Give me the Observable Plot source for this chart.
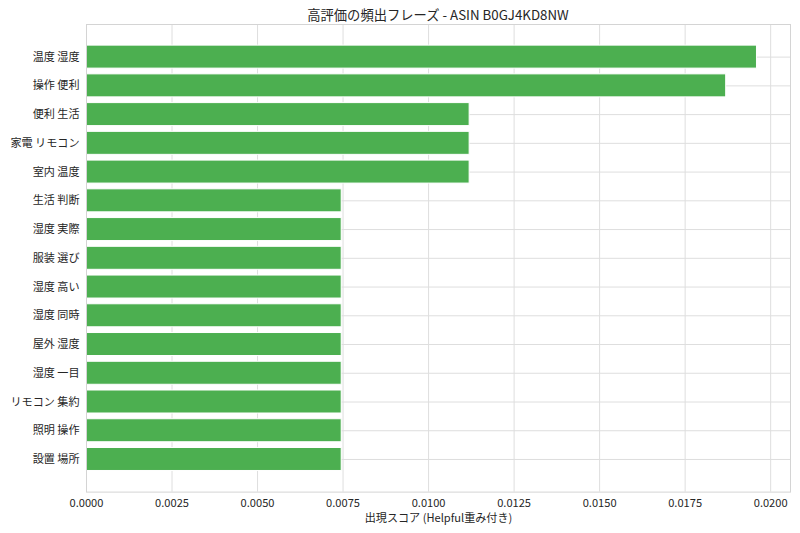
<!DOCTYPE html>
<html>
<head>
<meta charset="utf-8">
<script src="https://cdn.jsdelivr.net/npm/d3@7"></script>
<script src="https://cdn.jsdelivr.net/npm/@observablehq/plot@0.6"></script>
<style>
  html, body { margin: 0; padding: 0; background: white; }
  #title {
    box-sizing: border-box;
    width: 800px; height: 23px;
    padding-left: 86px; padding-right: 10px;
    text-align: center;
    font-family: "Noto Sans CJK JP", sans-serif;
    font-size: 13.3px; line-height: 29px;
    color: #262626;
  }
  #chart svg { display: block; }
</style>
</head>
<body>
<div id="title">高評価の頻出フレーズ - ASIN B0GJ4KD8NW</div>
<div id="chart"></div>
<script>
const phrases = [
  "温度 湿度", "操作 便利", "便利 生活", "家電 リモコン", "室内 温度",
  "生活 判断", "湿度 実際", "服装 選び", "湿度 高い", "湿度 同時",
  "屋外 湿度", "湿度 一目", "リモコン 集約", "照明 操作", "設置 場所"
];
const scores = [
  0.0196, 0.0187, 0.0112, 0.0112, 0.0112,
  0.00746, 0.00746, 0.00746, 0.00746, 0.00746,
  0.00746, 0.00746, 0.00746, 0.00746, 0.00746
];
const xTicks = [0, 0.0025, 0.005, 0.0075, 0.01, 0.0125, 0.015, 0.0175, 0.02];
const xLabel = "出現スコア (Helpful重み付き)";

const data = phrases.map((p, i) => ({phrase: p, score: scores[i]}));
const xMax = d3.max(scores) * 1.05;
const gridColor = "#dedede";

const chart = Plot.plot({
  width: 800,
  height: 510,
  marginTop: 1,
  marginLeft: 86,
  marginRight: 10,
  marginBottom: 41.4,
  style: {
    fontFamily: "'Noto Sans CJK JP', sans-serif",
    fontSize: "11.1px",
    color: "#262626",
    background: "white"
  },
  x: {domain: [0, xMax]},
  y: {domain: phrases, paddingInner: 0.2, paddingOuter: 0.735, round: false},
  marks: [
    Plot.gridX(xTicks, {stroke: gridColor, strokeOpacity: 1, strokeWidth: 1}),
    Plot.gridY(phrases, {stroke: gridColor, strokeOpacity: 1, strokeWidth: 1}),
    Plot.barX(data, {x: "score", y: "phrase", fill: "#4CAF50", stroke: "white", strokeWidth: 1}),
    Plot.frame({stroke: "#d4d4d4", strokeWidth: 1}),
    Plot.axisX(xTicks, {
      tickSize: 0, tickPadding: 7,
      tickFormat: d3.format(".4f"),
      label: xLabel, labelAnchor: "center", labelArrow: "none", labelOffset: 30
    }),
    Plot.axisY(phrases, {tickSize: 0, tickPadding: 7, label: null})
  ]
});
document.getElementById("chart").appendChild(chart);
</script>
</body>
</html>
